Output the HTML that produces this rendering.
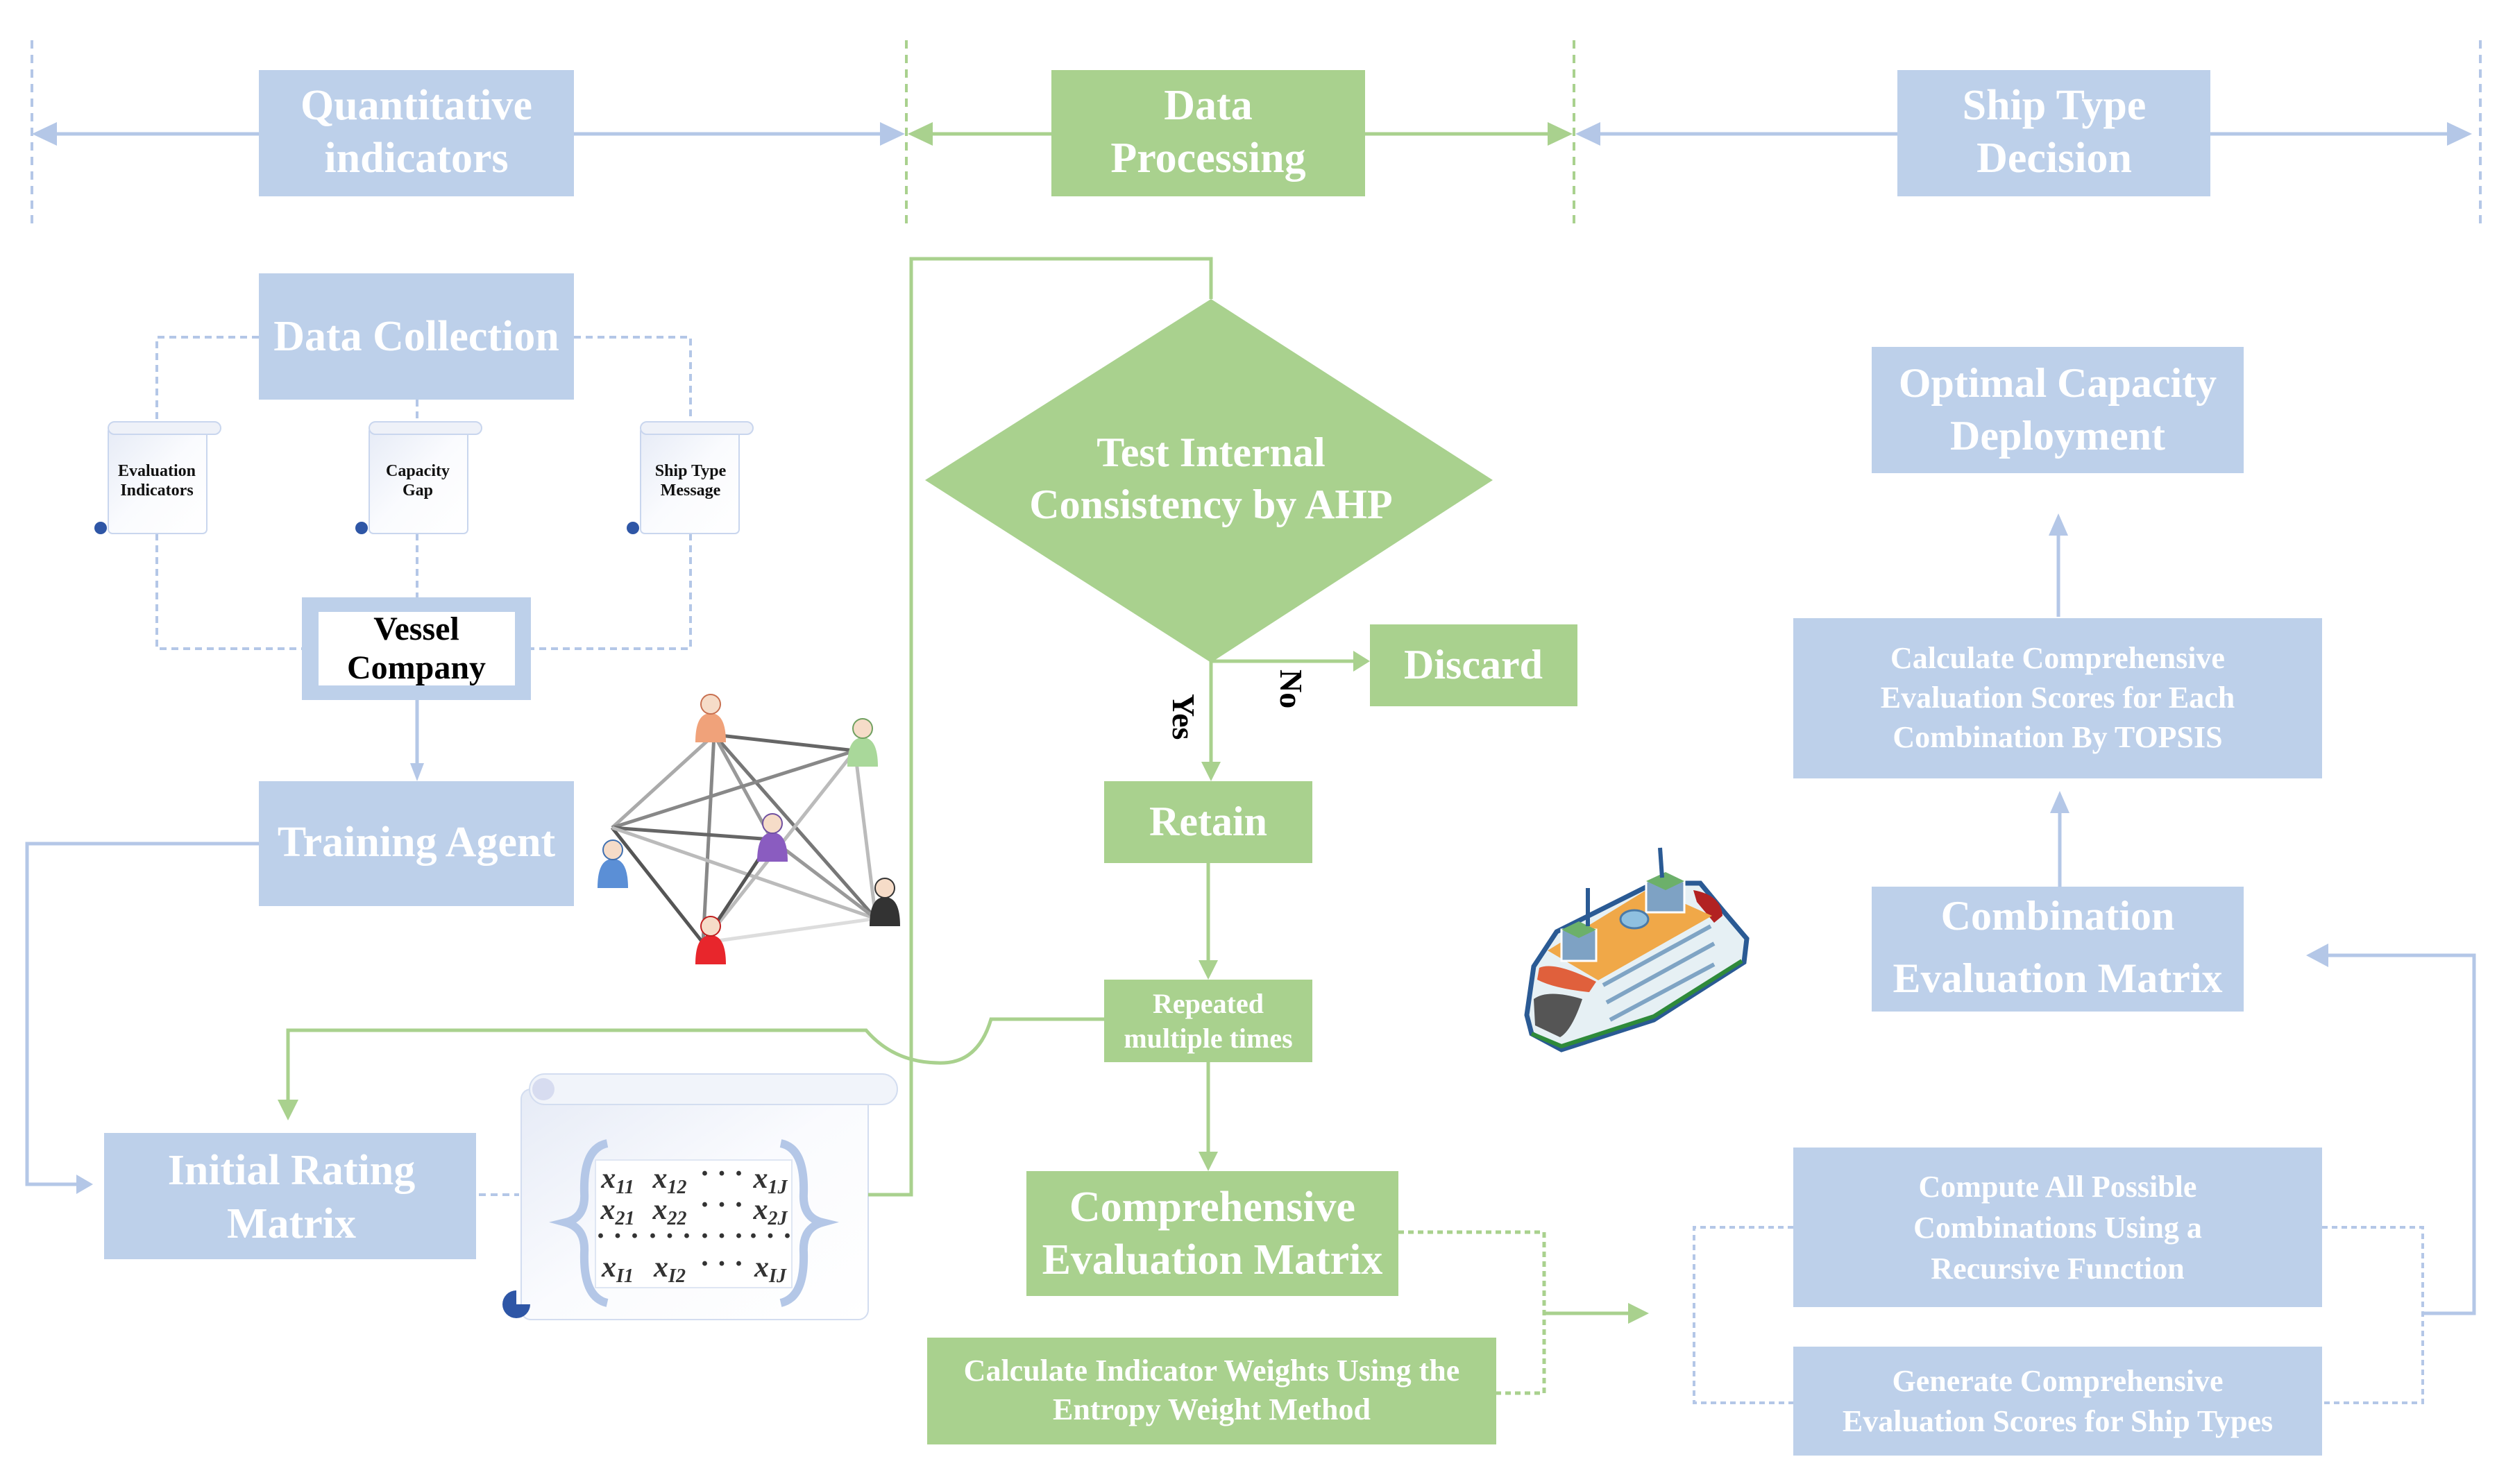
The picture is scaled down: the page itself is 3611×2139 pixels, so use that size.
<!DOCTYPE html>
<html><head><meta charset="utf-8"><style>
html,body{margin:0;padding:0;background:#fff;}
svg{display:block;}
text{font-family:"Liberation Serif",serif;font-weight:bold;}
</style></head><body>
<svg width="3611" height="2139" viewBox="0 0 3611 2139" xmlns="http://www.w3.org/2000/svg">
<defs>
<linearGradient id="sc" x1="0" y1="0" x2="1" y2="1"><stop offset="0" stop-color="#e6ebf6"/><stop offset="0.5" stop-color="#fafbfe"/><stop offset="1" stop-color="#ffffff"/></linearGradient>
</defs>

<g stroke-width="4" stroke-dasharray="12,9" fill="none">
<line x1="46" y1="58" x2="46" y2="322" stroke="#b4c7e7"/>
<line x1="1306" y1="58" x2="1306" y2="322" stroke="#a9d18e"/>
<line x1="2268" y1="58" x2="2268" y2="322" stroke="#a9d18e"/>
<line x1="3574" y1="58" x2="3574" y2="322" stroke="#b4c7e7"/>
</g>
<g stroke-width="5" fill="none">
<line x1="373" y1="193" x2="60" y2="193" stroke="#b4c7e7"/>
<line x1="827" y1="193" x2="1290" y2="193" stroke="#b4c7e7"/>
<line x1="1515" y1="193" x2="1320" y2="193" stroke="#a9d18e"/>
<line x1="1967" y1="193" x2="2250" y2="193" stroke="#a9d18e"/>
<line x1="2734" y1="193" x2="2285" y2="193" stroke="#b4c7e7"/>
<line x1="3185" y1="193" x2="3550" y2="193" stroke="#b4c7e7"/>
</g>
<g>
<path d="M46,193 L82,176 L82,210z" fill="#b4c7e7"/>
<path d="M1304,193 L1268,176 L1268,210z" fill="#b4c7e7"/>
<path d="M1308,193 L1344,176 L1344,210z" fill="#a9d18e"/>
<path d="M2266,193 L2230,176 L2230,210z" fill="#a9d18e"/>
<path d="M2270,193 L2306,176 L2306,210z" fill="#b4c7e7"/>
<path d="M3562,193 L3526,176 L3526,210z" fill="#b4c7e7"/>
</g>

<rect x="373" y="101" width="454" height="182" fill="#bdd0ea"/>
<text x="600" y="172" font-size="62" fill="#fff" text-anchor="middle">Quantitative</text>
<text x="600" y="248" font-size="62" fill="#fff" text-anchor="middle">indicators</text>
<rect x="1515" y="101" width="452" height="182" fill="#a9d18e"/>
<text x="1741" y="172" font-size="62" fill="#fff" text-anchor="middle">Data</text>
<text x="1741" y="248" font-size="62" fill="#fff" text-anchor="middle">Processing</text>
<rect x="2734" y="101" width="451" height="182" fill="#bdd0ea"/>
<text x="2960" y="172" font-size="62" fill="#fff" text-anchor="middle">Ship Type</text>
<text x="2960" y="248" font-size="62" fill="#fff" text-anchor="middle">Decision</text>

<g stroke="#b4c7e7" stroke-width="4" stroke-dasharray="10,7" fill="none">
<path d="M373,486 H226 V608"/>
<path d="M827,486 H995 V608"/>
<path d="M601,576 V608"/>
<path d="M226,769 V935 H435"/>
<path d="M995,769 V935 H765"/>
<path d="M601,769 V861"/>
</g>
<rect x="373" y="394" width="454" height="182" fill="#bdd0ea"/>
<text x="600" y="505" font-size="62" fill="#fff" text-anchor="middle">Data Collection</text>

<g font-size="24" fill="#111" text-anchor="middle">
<g transform="translate(154,608)">
<rect x="2" y="8" width="142" height="153" rx="6" fill="url(#sc)" stroke="#c9d6ee" stroke-width="2"/>
<rect x="2" y="0" width="162" height="18" rx="9" fill="#eef1f8" stroke="#c9d6ee" stroke-width="2"/>
<circle cx="-9" cy="153" r="9" fill="#2e56a6"/>
<text x="72" y="78">Evaluation</text><text x="72" y="106">Indicators</text>
</g>
<g transform="translate(530,608)">
<rect x="2" y="8" width="142" height="153" rx="6" fill="url(#sc)" stroke="#c9d6ee" stroke-width="2"/>
<rect x="2" y="0" width="162" height="18" rx="9" fill="#eef1f8" stroke="#c9d6ee" stroke-width="2"/>
<circle cx="-9" cy="153" r="9" fill="#2e56a6"/>
<text x="72" y="78">Capacity</text><text x="72" y="106">Gap</text>
</g>
<g transform="translate(921,608)">
<rect x="2" y="8" width="142" height="153" rx="6" fill="url(#sc)" stroke="#c9d6ee" stroke-width="2"/>
<rect x="2" y="0" width="162" height="18" rx="9" fill="#eef1f8" stroke="#c9d6ee" stroke-width="2"/>
<circle cx="-9" cy="153" r="9" fill="#2e56a6"/>
<text x="74" y="78">Ship Type</text><text x="74" y="106">Message</text>
</g>
</g>

<rect x="435" y="861" width="330" height="148" fill="#bdd0ea"/>
<text x="0" y="0" font-size="1" fill="none"> </text>
<rect x="459" y="882" width="283" height="106" fill="#fff"/>
<text x="600" y="922" font-size="48" fill="#000" text-anchor="middle">Vessel</text>
<text x="600" y="978" font-size="48" fill="#000" text-anchor="middle">Company</text>
<line x1="601" y1="1009" x2="601" y2="1110" stroke="#b4c7e7" stroke-width="5"/>
<path d="M601,1126 L591,1100 L611,1100z" fill="#b4c7e7"/>

<rect x="373" y="1126" width="454" height="180" fill="#bdd0ea"/>
<text x="600" y="1234" font-size="62" fill="#fff" text-anchor="middle">Training Agent</text>
<path d="M373,1216 H39 V1707 H120" stroke="#b4c7e7" stroke-width="5" fill="none"/>
<path d="M134,1707 L110,1693 L110,1721z" fill="#b4c7e7"/>

<g stroke-width="5" fill="none">
<line x1="1029" y1="1059" x2="1232" y2="1082" stroke="#666"/>
<line x1="1029" y1="1059" x2="882" y2="1193" stroke="#aaa"/>
<line x1="1029" y1="1059" x2="1013" y2="1359" stroke="#888"/>
<line x1="1029" y1="1059" x2="1262" y2="1324" stroke="#777"/>
<line x1="1029" y1="1059" x2="1112" y2="1210" stroke="#999"/>
<line x1="882" y1="1193" x2="1232" y2="1082" stroke="#888"/>
<line x1="882" y1="1193" x2="1013" y2="1359" stroke="#555"/>
<line x1="882" y1="1193" x2="1112" y2="1210" stroke="#666"/>
<line x1="882" y1="1193" x2="1262" y2="1324" stroke="#bbb"/>
<line x1="1232" y1="1082" x2="1013" y2="1359" stroke="#bbb"/>
<line x1="1232" y1="1082" x2="1262" y2="1324" stroke="#bbb"/>
<line x1="1112" y1="1210" x2="1013" y2="1359" stroke="#555"/>
<line x1="1112" y1="1210" x2="1262" y2="1324" stroke="#999"/>
<line x1="1013" y1="1359" x2="1262" y2="1324" stroke="#ddd"/>
</g>
<g>
<g transform="translate(1024,1000)"><path d="M-22,70 Q-22,28 0,28 Q22,28 22,70z" fill="#f0a27a"/><circle cx="0" cy="15" r="14" fill="#f6dcc8" stroke="#c87050" stroke-width="2"/></g>
<g transform="translate(1243,1035)"><path d="M-22,70 Q-22,28 0,28 Q22,28 22,70z" fill="#a9d89a"/><circle cx="0" cy="15" r="14" fill="#f6dcc8" stroke="#70a060" stroke-width="2"/></g>
<g transform="translate(1113,1172)"><path d="M-22,70 Q-22,28 0,28 Q22,28 22,70z" fill="#8a5cc0"/><circle cx="0" cy="15" r="14" fill="#f6dcc8" stroke="#7050a0" stroke-width="2"/></g>
<g transform="translate(883,1210)"><path d="M-22,70 Q-22,28 0,28 Q22,28 22,70z" fill="#5b8fd6"/><circle cx="0" cy="15" r="14" fill="#f6dcc8" stroke="#4070b0" stroke-width="2"/></g>
<g transform="translate(1275,1265)"><path d="M-22,70 Q-22,28 0,28 Q22,28 22,70z" fill="#333"/><circle cx="0" cy="15" r="14" fill="#f6dcc8" stroke="#333" stroke-width="2"/></g>
<g transform="translate(1024,1320)"><path d="M-22,70 Q-22,28 0,28 Q22,28 22,70z" fill="#e8262c"/><circle cx="0" cy="15" r="14" fill="#f6dcc8" stroke="#c02020" stroke-width="2"/></g>
</g>

<rect x="150" y="1633" width="536" height="182" fill="#bdd0ea"/>
<text x="420" y="1707" font-size="62" fill="#fff" text-anchor="middle">Initial Rating</text>
<text x="420" y="1784" font-size="62" fill="#fff" text-anchor="middle">Matrix</text>
<line x1="690" y1="1722" x2="748" y2="1722" stroke="#b4c7e7" stroke-width="4" stroke-dasharray="10,7"/>

<g>
<rect x="751" y="1570" width="500" height="332" rx="14" fill="url(#sc)" stroke="#d3ddf0" stroke-width="2"/>
<rect x="763" y="1548" width="530" height="44" rx="22" fill="#f1f4fa" stroke="#d3ddf0" stroke-width="2"/>
<circle cx="783" cy="1570" r="16" fill="#d7dcf0"/>
<path d="M744,1860 a20,20 0 1,0 20,20 h-20z" fill="#2e56a6"/>
<rect x="858" y="1672" width="283" height="184" fill="#fff" stroke="#dfe6f3" stroke-width="2"/>
<path d="M875,1648 Q840,1655 842,1720 Q844,1755 815,1762 Q844,1770 842,1805 Q840,1870 875,1878" fill="none" stroke="#b4c7e7" stroke-width="12"/>
<path d="M1125,1648 Q1160,1655 1158,1720 Q1156,1755 1185,1762 Q1156,1770 1158,1805 Q1160,1870 1125,1878" fill="none" stroke="#b4c7e7" stroke-width="12"/>
<g font-size="42" font-weight="normal" font-style="italic" fill="#333" text-anchor="middle">
<text x="890" y="1712">x<tspan font-size="28" dy="8">11</tspan></text>
<text x="965" y="1712">x<tspan font-size="28" dy="8">12</tspan></text>
<text x="1040" y="1705" font-style="normal">· · ·</text>
<text x="1110" y="1712">x<tspan font-size="28" dy="8">1J</tspan></text>
<text x="890" y="1757">x<tspan font-size="28" dy="8">21</tspan></text>
<text x="965" y="1757">x<tspan font-size="28" dy="8">22</tspan></text>
<text x="1040" y="1750" font-style="normal">· · ·</text>
<text x="1110" y="1757">x<tspan font-size="28" dy="8">2J</tspan></text>
<text x="890" y="1795" font-style="normal">· · ·</text>
<text x="965" y="1795" font-style="normal">· · ·</text>
<text x="1040" y="1795" font-style="normal">· · ·</text>
<text x="1110" y="1795" font-style="normal">· · ·</text>
<text x="890" y="1840">x<tspan font-size="28" dy="8">I1</tspan></text>
<text x="965" y="1840">x<tspan font-size="28" dy="8">I2</tspan></text>
<text x="1040" y="1835" font-style="normal">· · ·</text>
<text x="1110" y="1840">x<tspan font-size="28" dy="8">IJ</tspan></text>
</g>
</g>

<g stroke="#a9d18e" stroke-width="5" fill="none">
<path d="M1251,1722 H1313 V373 H1745 V431"/>
<path d="M1745,953 H1955"/>
<path d="M1745,953 V1105"/>
<path d="M1741,1244 V1392"/>
<path d="M1741,1531 V1668"/>
<path d="M1591,1469 H1428 Q1410,1530 1360,1532 Q1290,1534 1248,1485 H415 V1595"/>
<path d="M2015,1776 H2225 V2008 H2156" stroke-dasharray="8,6"/>
<path d="M2225,1893 H2348"/>
</g>
<path d="M1974,953 L1950,938 L1950,968z" fill="#a9d18e"/>
<path d="M1745,1126 L1731,1098 L1759,1098z" fill="#a9d18e"/>
<path d="M1741,1412 L1727,1384 L1755,1384z" fill="#a9d18e"/>
<path d="M1741,1688 L1727,1660 L1755,1660z" fill="#a9d18e"/>
<path d="M415,1615 L400,1585 L430,1585z" fill="#a9d18e"/>
<path d="M2376,1893 L2346,1878 L2346,1908z" fill="#a9d18e"/>

<path d="M1745,431 L2151,692 L1745,955 L1333,692z" fill="#a9d18e"/>
<text x="1745" y="672" font-size="60" fill="#fff" text-anchor="middle">Test Internal</text>
<text x="1745" y="747" font-size="60" fill="#fff" text-anchor="middle">Consistency by AHP</text>
<text transform="translate(1690,1000) rotate(90)" font-size="46" fill="#000">Yes</text>
<text transform="translate(1845,965) rotate(90)" font-size="46" fill="#000">No</text>

<rect x="1974" y="900" width="299" height="118" fill="#a9d18e"/>
<text x="2123" y="978" font-size="60" fill="#fff" text-anchor="middle">Discard</text>
<rect x="1591" y="1126" width="300" height="118" fill="#a9d18e"/>
<text x="1741" y="1204" font-size="60" fill="#fff" text-anchor="middle">Retain</text>
<rect x="1591" y="1412" width="300" height="119" fill="#a9d18e"/>
<text x="1741" y="1460" font-size="40" fill="#fff" text-anchor="middle">Repeated</text>
<text x="1741" y="1510" font-size="40" fill="#fff" text-anchor="middle">multiple times</text>
<rect x="1479" y="1688" width="536" height="180" fill="#a9d18e"/>
<text x="1747" y="1760" font-size="62" fill="#fff" text-anchor="middle">Comprehensive</text>
<text x="1747" y="1836" font-size="62" fill="#fff" text-anchor="middle">Evaluation Matrix</text>
<rect x="1336" y="1928" width="820" height="154" fill="#a9d18e"/>
<text x="1746" y="1990" font-size="44" fill="#fff" text-anchor="middle">Calculate Indicator Weights Using the</text>
<text x="1746" y="2046" font-size="44" fill="#fff" text-anchor="middle">Entropy Weight Method</text>

<g>
<path d="M2200,1463 L2210,1393 L2243,1343 L2383,1273 L2450,1273 L2483,1313 L2517,1353 L2513,1387 L2383,1470 L2250,1513 L2207,1490z" fill="#e6f0f4" stroke="#2a5a94" stroke-width="7"/>
<path d="M2207,1490 L2250,1508 L2383,1465 L2510,1385" fill="none" stroke="#2e8a3a" stroke-width="6"/>
<path d="M2210,1440 Q2230,1425 2280,1440 Q2265,1485 2248,1495 L2212,1478z" fill="#555"/>
<path d="M2218,1395 Q2240,1385 2300,1415 L2290,1430 Q2240,1425 2215,1412z" fill="#e0603c"/>
<path d="M2440,1283 Q2480,1290 2482,1320 L2470,1330 L2445,1300z" fill="#b22222"/>
<path d="M2230,1370 L2377,1280 L2467,1320 L2303,1413z" fill="#f0a848"/>
<path d="M2310,1420 L2465,1335 M2315,1445 L2470,1360 M2320,1470 L2470,1390" stroke="#7fa4c4" stroke-width="6"/>
<rect x="2250" y="1340" width="50" height="45" fill="#7ea2c4" stroke="#fff" stroke-width="3"/>
<path d="M2250,1340 L2275,1328 L2300,1340 L2275,1352z" fill="#6cb06a"/>
<rect x="2372" y="1270" width="55" height="45" fill="#7ea2c4" stroke="#fff" stroke-width="3"/>
<path d="M2372,1270 L2400,1257 L2427,1270 L2400,1283z" fill="#6cb06a"/>
<ellipse cx="2355" cy="1325" rx="20" ry="13" fill="#8fc0e0" stroke="#4a7aa8" stroke-width="3"/>
<line x1="2288" y1="1335" x2="2288" y2="1280" stroke="#2a5a94" stroke-width="6"/>
<line x1="2395" y1="1265" x2="2392" y2="1222" stroke="#2a5a94" stroke-width="6"/>
</g>

<rect x="2697" y="500" width="536" height="182" fill="#bdd0ea"/>
<text x="2965" y="572" font-size="60" fill="#fff" text-anchor="middle">Optimal Capacity</text>
<text x="2965" y="648" font-size="60" fill="#fff" text-anchor="middle">Deployment</text>
<line x1="2966" y1="889" x2="2966" y2="760" stroke="#b4c7e7" stroke-width="5"/>
<path d="M2966,740 L2952,772 L2980,772z" fill="#b4c7e7"/>
<rect x="2584" y="891" width="762" height="231" fill="#bdd0ea"/>
<text x="2965" y="963" font-size="44" fill="#fff" text-anchor="middle">Calculate Comprehensive</text>
<text x="2965" y="1020" font-size="44" fill="#fff" text-anchor="middle">Evaluation Scores for Each</text>
<text x="2965" y="1077" font-size="44" fill="#fff" text-anchor="middle">Combination By TOPSIS</text>
<line x1="2968" y1="1278" x2="2968" y2="1158" stroke="#b4c7e7" stroke-width="5"/>
<path d="M2968,1140 L2954,1172 L2982,1172z" fill="#b4c7e7"/>
<rect x="2697" y="1278" width="536" height="180" fill="#bdd0ea"/>
<text x="2965" y="1340" font-size="60" fill="#fff" text-anchor="middle">Combination</text>
<text x="2965" y="1430" font-size="60" fill="#fff" text-anchor="middle">Evaluation Matrix</text>

<g stroke="#b4c7e7" stroke-width="4" fill="none" stroke-dasharray="8,6">
<path d="M2584,1769 H2441 V2022 H2584"/>
<path d="M3346,1769 H3491 V2022 H3346"/>
</g>
<path d="M3491,1893 H3565 V1377 H3345" stroke="#b4c7e7" stroke-width="5" fill="none"/>
<path d="M3323,1377 L3355,1360 L3355,1394z" fill="#b4c7e7"/>

<rect x="2584" y="1654" width="762" height="230" fill="#bdd0ea"/>
<text x="2965" y="1725" font-size="44" fill="#fff" text-anchor="middle">Compute All Possible</text>
<text x="2965" y="1784" font-size="44" fill="#fff" text-anchor="middle">Combinations Using a</text>
<text x="2965" y="1843" font-size="44" fill="#fff" text-anchor="middle">Recursive Function</text>
<rect x="2584" y="1941" width="762" height="157" fill="#bdd0ea"/>
<text x="2965" y="2005" font-size="44" fill="#fff" text-anchor="middle">Generate Comprehensive</text>
<text x="2965" y="2063" font-size="44" fill="#fff" text-anchor="middle">Evaluation Scores for Ship Types</text>
</svg>
</body></html>
